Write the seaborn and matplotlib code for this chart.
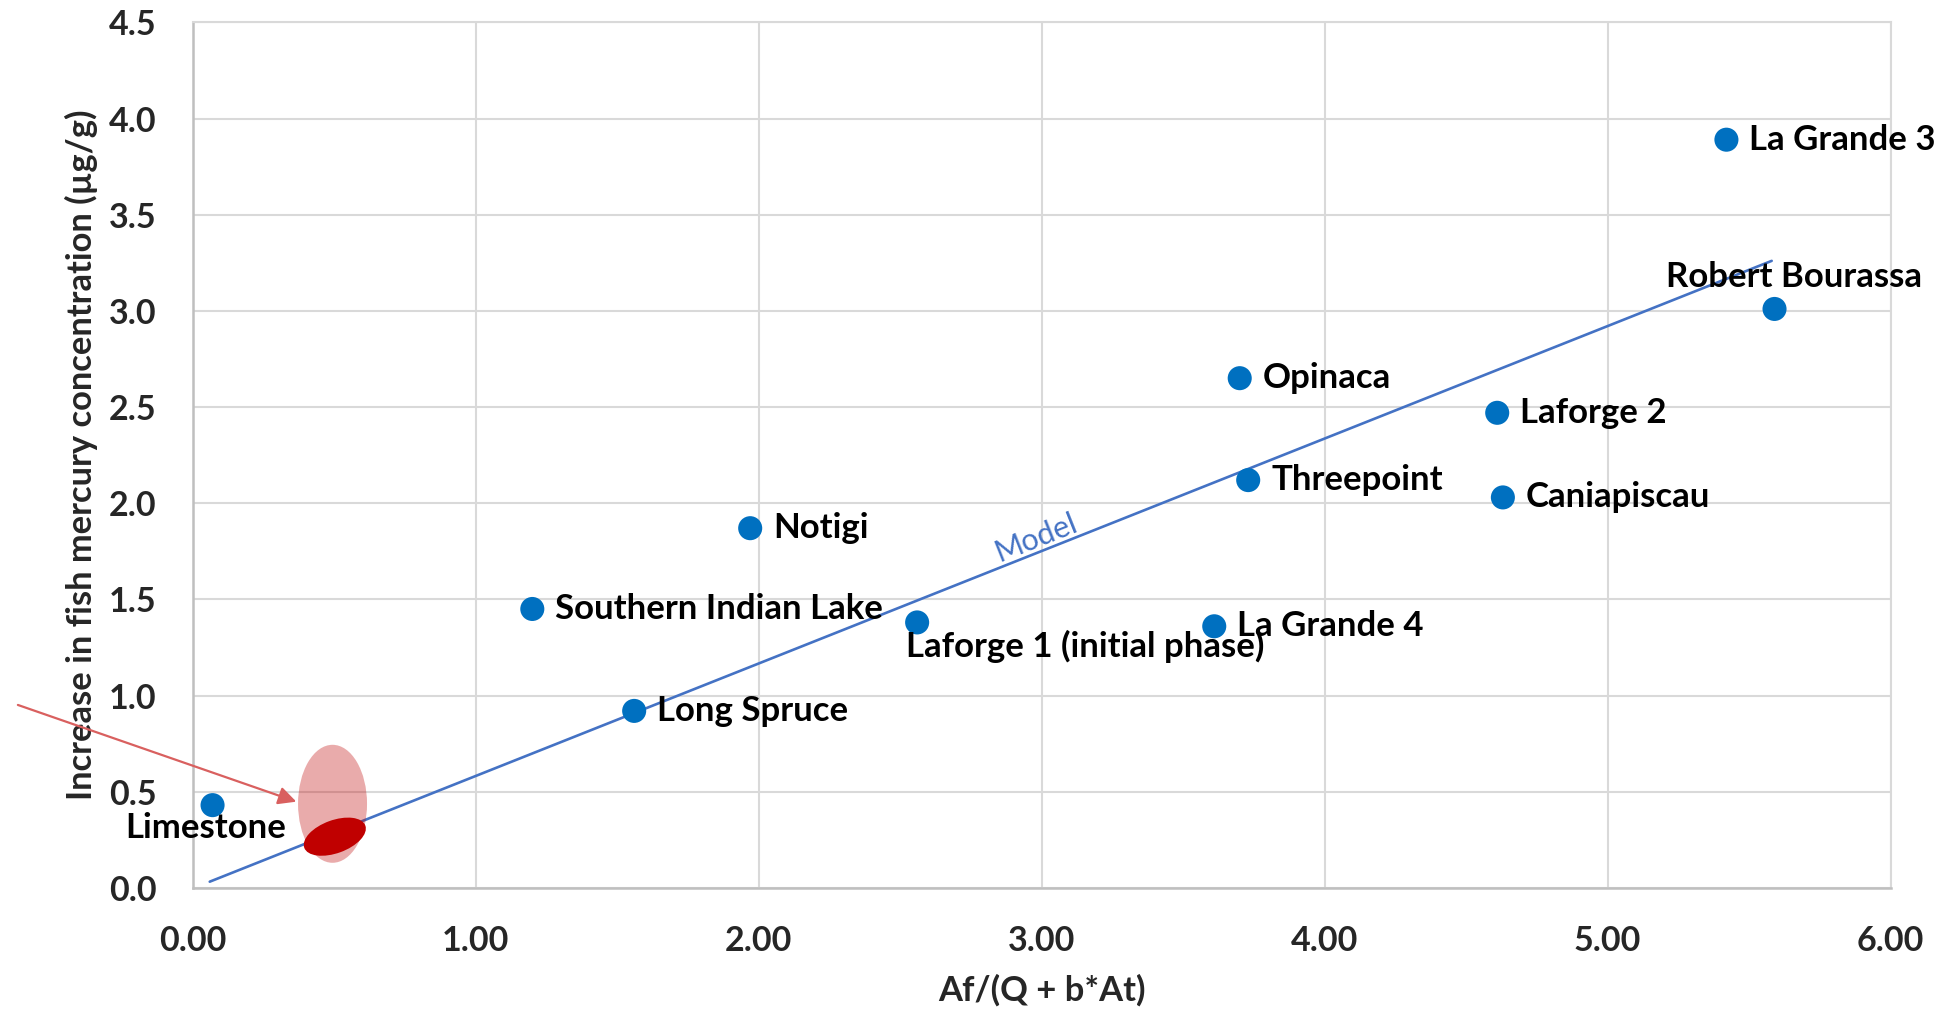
import matplotlib
matplotlib.use("Agg")
import matplotlib.pyplot as plt
import matplotlib.transforms as mtransforms
from matplotlib.patches import Ellipse
import seaborn as sns
import pandas as pd

# Reservoir data: Af/(Q + b*At) vs increase in fish mercury concentration
reservoirs = ["Limestone", "Long Spruce", "Southern Indian Lake", "Notigi",
              "Laforge 1 (initial phase)", "La Grande 4", "Opinaca", "Threepoint",
              "Laforge 2", "Caniapiscau", "La Grande 3", "Robert Bourassa"]
ratio = [0.07, 1.56, 1.20, 1.97, 2.56, 3.61, 3.70, 3.73, 4.61, 4.63, 5.42, 5.59]
hg_increase = [0.43, 0.92, 1.45, 1.87, 1.38, 1.36, 2.65, 2.12, 2.47, 2.03, 3.89, 3.01]

# Model line end points
model_x = [0.06, 5.58]
model_y = [0.032, 3.26]

# Highlighted region (centre of the estimate ellipses)
region_x = [0.494, 0.502]
region_y = [0.437, 0.266]

x_ticks = [0, 1, 2, 3, 4, 5, 6]
y_ticks = [0.0, 0.5, 1.0, 1.5, 2.0, 2.5, 3.0, 3.5, 4.0, 4.5]

sns.set_theme(style="white")
plt.rcParams["font.family"] = ["Lato", "DejaVu Sans"]

df = pd.DataFrame({"site": reservoirs, "ratio": ratio, "hg": hg_increase})

fig = plt.figure(figsize=(19.47, 10.17), dpi=100)
ax = fig.add_axes([0.099, 0.127, 0.872, 0.851])

ax.set_xlim(0, 6)
ax.set_ylim(0, 4.5)
ax.set_xticks(x_ticks)
ax.set_yticks(y_ticks)
ax.set_xticklabels([f"{v:.2f}" for v in x_ticks])
ax.set_yticklabels([f"{v:.1f}" for v in y_ticks])
ax.grid(True, color="#D9D9D9", linewidth=1.5)
ax.set_axisbelow(True)
for side in ["top", "right"]:
    ax.spines[side].set_color("#D9D9D9")
    ax.spines[side].set_linewidth(1.5)
for side in ["left", "bottom"]:
    ax.spines[side].set_color("#BFBFBF")
    ax.spines[side].set_linewidth(1.8)
ax.tick_params(axis="x", length=0, labelsize=24.5, pad=27)
ax.tick_params(axis="y", length=0, labelsize=24.5, pad=26)
for lab in ax.get_xticklabels() + ax.get_yticklabels():
    lab.set_fontweight("bold")

# Model line
sns.lineplot(x=model_x, y=model_y, ax=ax, color="#4472C4", linewidth=1.9, zorder=2)
ax.text(2.98, 1.82, "Model", color="#4472C4", fontsize=22, rotation=21.7,
        ha="center", va="center", rotation_mode="anchor")

# Reservoir points
sns.scatterplot(data=df, x="ratio", y="hg", ax=ax, s=300, color="#0070C0",
                edgecolor="none", zorder=4, legend=False)

# Labels, offsets in points
right_labels = {"Long Spruce", "Southern Indian Lake", "Notigi", "La Grande 4",
                "Opinaca", "Threepoint", "Laforge 2", "Caniapiscau", "La Grande 3"}
for name, xv, yv in zip(reservoirs, ratio, hg_increase):
    if name in right_labels:
        off, ha, va = (16.5, 0), "left", "center"
    elif name == "Robert Bourassa":
        off, ha, va = (14, 23), "center", "center"
    elif name == "Laforge 1 (initial phase)":
        off, ha, va = (-8, -17.5), "left", "center"
    else:  # Limestone
        off, ha, va = (-5, -16.5), "center", "center"
    ax.annotate(name, (xv, yv), xytext=off, textcoords="offset points",
                ha=ha, va=va, fontsize=25, fontweight="bold", color="black",
                zorder=5)

# Estimate ellipses (sizes in inches at the data centre)
t_light = fig.dpi_scale_trans + mtransforms.ScaledTranslation(region_x[0], region_y[0], ax.transData)
ax.add_patch(Ellipse((0, 0), 0.69, 1.18, angle=0, transform=t_light,
                     facecolor=(0.75, 0, 0), alpha=0.33, edgecolor="none", zorder=3))
t_dark = fig.dpi_scale_trans + mtransforms.ScaledTranslation(region_x[1], region_y[1], ax.transData)
ax.add_patch(Ellipse((0, 0), 0.65, 0.33, angle=20, transform=t_dark,
                     facecolor="#C00000", edgecolor="none", zorder=3))

# Arrow pointing at the region
ax.annotate("", xy=(0.366, 0.448), xytext=(-0.618, 0.951),
            arrowprops=dict(arrowstyle="-|>,head_length=0.9,head_width=0.45",
                            color="#D9605F", lw=1.6, shrinkA=0, shrinkB=0),
            annotation_clip=False, zorder=5)

ax.set_xlabel("Af/(Q + b*At)", fontsize=24.8, fontweight="bold")
ax.set_ylabel("Increase in fish mercury concentration (\u00b5g/g)", fontsize=24.8,
              fontweight="bold")
ax.xaxis.set_label_coords(0.5, -0.118)
ax.xaxis.label.set_verticalalignment("center")
ax.yaxis.set_label_coords(-0.0654, 0.5)
ax.yaxis.label.set_verticalalignment("center")

fig.savefig("out.png", dpi=100)
